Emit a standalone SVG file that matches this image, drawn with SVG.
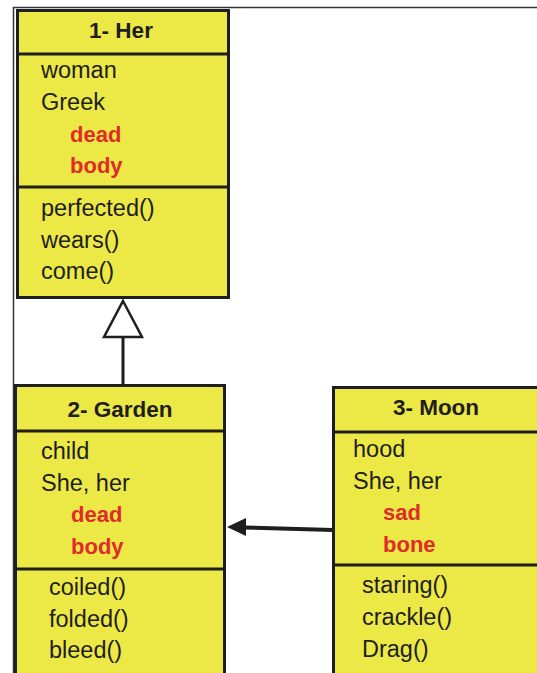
<svg xmlns="http://www.w3.org/2000/svg" width="537" height="673" viewBox="0 0 537 673">
<style>
.box{fill:#ECE846;stroke:#1e1e1e;stroke-width:3}
.sep{stroke:#1e1e1e;stroke-width:3}
.t{font-family:"Liberation Sans",Arial,sans-serif;font-size:23.5px;fill:#1e1e1e}
.h{font-family:"Liberation Sans",Arial,sans-serif;font-size:22.5px;font-weight:bold;fill:#1e1e1e;text-anchor:middle}
.r{font-family:"Liberation Sans",Arial,sans-serif;font-size:22px;font-weight:bold;fill:#E02B2B}
</style>
<rect width="537" height="673" fill="#fff"/>
<path d="M13.5,673 V7.5 H537" fill="none" stroke="#333" stroke-width="1.5"/>
<g id="connectors">
<line x1="123" y1="337" x2="123" y2="385" stroke="#1e1e1e" stroke-width="3"/>
<polygon points="123,301 142,337 104,337" fill="#fff" stroke="#1e1e1e" stroke-width="2.5"/>
<line x1="333" y1="530" x2="244" y2="527.5" stroke="#1e1e1e" stroke-width="4"/>
<polygon points="227,527 246,518 246,536" fill="#1e1e1e"/>
</g>
<g id="node1">
<rect class="box" x="17.5" y="10.5" width="211" height="287"/>
<line class="sep" x1="17.5" y1="54" x2="228.5" y2="54"/>
<line class="sep" x1="17.5" y1="187" x2="228.5" y2="187"/>
<text class="h" x="121" y="38">1- Her</text>
<text class="t" x="41" y="78">woman</text>
<text class="t" x="41" y="110">Greek</text>
<text class="r" x="70" y="142">dead</text>
<text class="r" x="70" y="173">body</text>
<text class="t" x="41" y="216">perfected()</text>
<text class="t" x="41" y="248">wears()</text>
<text class="t" x="41" y="279">come()</text>
</g>
<g id="node2">
<rect class="box" x="15.5" y="385.5" width="209" height="300"/>
<line class="sep" x1="15.5" y1="431" x2="224.5" y2="431"/>
<line class="sep" x1="15.5" y1="569" x2="224.5" y2="569"/>
<text class="h" x="120" y="417">2- Garden</text>
<text class="t" x="41" y="459">child</text>
<text class="t" x="41" y="491">She, her</text>
<text class="r" x="71" y="522">dead</text>
<text class="r" x="71" y="554">body</text>
<text class="t" x="49" y="595">coiled()</text>
<text class="t" x="49" y="627">folded()</text>
<text class="t" x="49" y="658">bleed()</text>
</g>
<g id="node3">
<rect class="box" x="333.5" y="387.5" width="210" height="300"/>
<line class="sep" x1="333.5" y1="432" x2="543" y2="432"/>
<line class="sep" x1="333.5" y1="565" x2="543" y2="565"/>
<text class="h" x="436" y="415">3- Moon</text>
<text class="t" x="353" y="457">hood</text>
<text class="t" x="353" y="489">She, her</text>
<text class="r" x="383" y="520">sad</text>
<text class="r" x="383" y="552">bone</text>
<text class="t" x="362" y="593">staring()</text>
<text class="t" x="362" y="625">crackle()</text>
<text class="t" x="362" y="657">Drag()</text>
</g>
</svg>
